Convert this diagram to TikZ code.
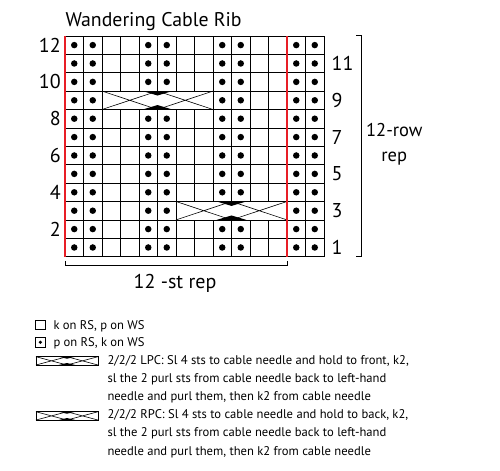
\documentclass[tikz,border=0pt]{standalone}
\usepackage{fontspec}
\setmainfont{PT Sans}
\usetikzlibrary{positioning,calc}
\definecolor{RepRed}{RGB}{232,30,38}
\tikzset{
  purl/.style={circle,fill=black,inner sep=0pt,minimum size=6.5bp},
  keydot/.style={circle,fill=black,inner sep=0pt,minimum size=3.5bp},
  gridline/.style={draw=black,line width=0.7bp},
  repline/.style={draw=RepRed,line width=2bp},
  bracket/.style={draw=black,line width=0.8bp},
  rownum/.style={inner sep=0pt,font=\fontsize{20bp}{24bp}\selectfont},
  keytext/.style={inner sep=0pt,anchor=base west,font=\fontsize{12.6bp}{15bp}\selectfont},
}
\tikzset{cable/.pic={
  \fill[white] (0,0) rectangle (6,1);
  \draw[gridline] (0,0) rectangle (6,1);
  \draw[line width=0.6bp] (0,1)--(3,0)--(6,1) (0,0)--(3,1)--(6,0);
  \fill (2.2,1)--(3.8,1)--(3,0.76)--cycle;
  \fill (2.2,0)--(3.8,0)--(3,0.24)--cycle;
}}

\begin{document}
\begin{tikzpicture}[x=18.5bp,y=18.4bp]
\fill[white] (-3.5135,-11.647) rectangle (23.5135,13.951);
\useasboundingbox (-3.5135,-11.647) rectangle (23.5135,13.951);
% chart
\foreach \c in {0,...,14}
  \draw[gridline] (\c,0)--(\c,12);
\foreach \r in {0,...,12}
  \draw[gridline] (0,\r)--(14,\r);
\foreach \r in {1,2,4,5,6,7,8,10,11,12}
  \foreach \c in {1,2,5,6,9,10,13,14}
    \node[purl] (p-\r-\c) at (\c-0.5,\r-0.5) {};
\foreach \c in {1,2,5,6,13,14}
  \node[purl] (p-3-\c) at (\c-0.5,2.5) {};
\foreach \c in {1,2,9,10,13,14}
  \node[purl] (p-9-\c) at (\c-0.5,8.5) {};
\pic at (6,2) {cable};
\pic at (2,8) {cable};
\draw[repline] (0,0)--(0,12);
\draw[repline] (12,0)--(12,12);
% row numbers
\foreach \n in {2,4,...,12}
  \node[rownum,anchor=east] (l\n) at (-0.22,\n-0.5) {\n};
\foreach \n in {1,3,...,11}
  \node[rownum,anchor=west] (r\n) at (14.4,\n-0.5) {\n};
\node[anchor=base west,inner sep=0pt,font=\fontsize{19.8bp}{22bp}\selectfont] (title) at (0.02,12.5) {Wandering Cable Rib};
% repeats
\draw[bracket] (15.73,12.05)--(16.04,12.05)--(16.04,0)--(15.73,0);
\node[align=center,inner sep=0pt,font=\fontsize{18.5bp}{25bp}\selectfont] (rowrep) at (17.8,6.1) {12-row\\rep};
\draw[bracket] (0,-0.23)--(0,-0.5)--(12,-0.5)--(12,-0.23);
\node[inner sep=0pt,font=\fontsize{20bp}{24bp}\selectfont] (strep) at (5.95,-1.43) {12 -st rep};
% key
\draw[gridline] (-1.584,-3.95) rectangle (-1.081,-3.44);
\node[keytext] (k1) at (-0.632,-3.93) {k on RS, p on WS};
\draw[gridline] (-1.584,-4.91) rectangle (-1.081,-4.40);
\node[keydot] (kd) at (-1.3325,-4.655) {};
\node[keytext] (k2) at (-0.632,-4.89) {p on RS, k on WS};
\pic[xscale=0.558,yscale=0.45] at (-1.568,-5.886) {cable};
\node[keytext] (k3) at (2.29,-5.886) {2/2/2 LPC: Sl 4 sts to cable needle and hold to front, k2,};
\node[keytext] (k4) at (2.29,-6.848) {sl the 2 purl sts from cable needle back to left-hand};
\node[keytext] (k5) at (2.29,-7.81) {needle and purl them, then k2 from cable needle};
\pic[xscale=0.558,yscale=0.45] at (-1.568,-8.877) {cable};
\node[keytext] (k6) at (2.29,-8.8) {2/2/2 RPC: Sl 4 sts to cable needle and hold to back, k2,};
\node[keytext] (k7) at (2.29,-9.78) {sl the 2 purl sts from cable needle back to left-hand};
\node[keytext] (k8) at (2.29,-10.78) {needle and purl them, then k2 from cable needle};
\end{tikzpicture}
\end{document}
